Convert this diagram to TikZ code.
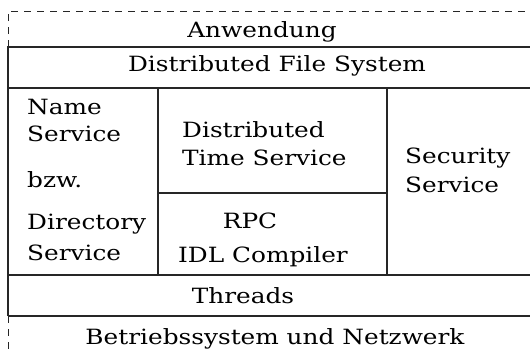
\documentclass[tikz,border=0pt]{standalone}
\usepackage{fontspec}
\setmainfont[FakeStretch=1.18]{DejaVu Serif}
\begin{document}
\begin{tikzpicture}[x=1pt,y=-1pt,
  rule/.style={line width=1.1pt,black!85},
  dashrule/.style={line width=1pt,black!85,dash pattern=on 7pt off 6pt},
  txt/.style={font=\fontsize{21}{25}\selectfont,inner sep=0pt},
  lbl/.style={txt,anchor=base},
  lbll/.style={txt,anchor=base west}]
\useasboundingbox (0,0) rectangle (530,351);
% dashed outline of the whole stack
\draw[dashrule] (8,47) -- (8,11) -- (535,11);
\draw[dashrule] (8,316) -- (8,356);
% solid grid of the layers
\draw[rule] (8,316) -- (8,47) -- (535,47);
\draw[rule] (8,88) -- (535,88);
\draw[rule] (8,275) -- (535,275);
\draw[rule] (8,316) -- (535,316);
\draw[rule] (158,88) -- (158,275);
\draw[rule] (387,88) -- (387,275);
\draw[rule] (158,193) -- (387,193);
% layer labels
\node[lbl] (app) at (262,37) {Anwendung};
\node[lbl] (dfs) at (277,71) {Distributed File System};
\node[lbl] (thr) at (243,303) {Threads};
\node[lbl] (os)  at (275,344) {Betriebssystem und Netzwerk};
\node[lbll] (ns1) at (27,114) {Name};
\node[lbll] (ns2) at (27,141) {Service};
\node[lbll] (bzw) at (27,187) {bzw.};
\node[lbll] (ds1) at (27,229) {Directory};
\node[lbll] (ds2) at (27,260) {Service};
\node[lbll] (dt1) at (182,137) {Distributed};
\node[lbll] (dt2) at (182,165) {Time Service};
\node[lbl] (rpc) at (250,228) {RPC};
\node[lbl] (idl) at (263,262) {IDL Compiler};
\node[lbll] (se1) at (405,163) {Security};
\node[lbll] (se2) at (405,192) {Service};
\end{tikzpicture}
\end{document}
